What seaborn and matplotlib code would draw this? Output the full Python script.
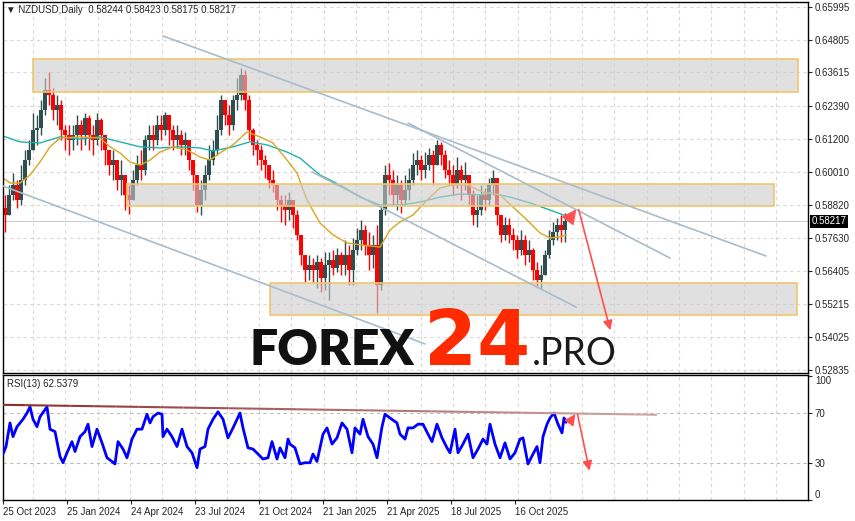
import numpy as np
import pandas as pd
import seaborn as sns
import matplotlib.pyplot as plt
from matplotlib.patches import Rectangle
from matplotlib.collections import LineCollection
import matplotlib.transforms as mtransforms

sns.set_style('white')
plt.rcParams['font.family'] = ['Liberation Sans', 'DejaVu Sans']

# ---- data: NZDUSD daily, grouped by 4 sessions (oldest first) ----
first_open = 0.5870
closes = [0.5845, 0.5918, 0.5954, 0.5899, 0.5972, 0.6044, 0.6081, 0.6153, 0.6160, 0.6225,
          0.6298, 0.6280, 0.6225, 0.6244, 0.6153, 0.6135, 0.6117, 0.6135, 0.6171, 0.6135,
          0.6196, 0.6135, 0.6117, 0.6189, 0.6135, 0.6081, 0.6026, 0.6044, 0.5972, 0.5990,
          0.5918, 0.5899, 0.5972, 0.6026, 0.6008, 0.6117, 0.6135, 0.6117, 0.6171, 0.6153,
          0.6207, 0.6153, 0.6117, 0.6135, 0.6099, 0.6117, 0.6044, 0.5990, 0.5881, 0.5936,
          0.5990, 0.6044, 0.6081, 0.6153, 0.6262, 0.6207, 0.6171, 0.6262, 0.6280, 0.6352,
          0.6262, 0.6153, 0.6099, 0.6081, 0.6044, 0.6026, 0.5972, 0.5954, 0.5899, 0.5881,
          0.5863, 0.5899, 0.5845, 0.5773, 0.5700, 0.5646, 0.5664, 0.5646, 0.5675, 0.5617,
          0.5664, 0.5682, 0.5653, 0.5700, 0.5664, 0.5700, 0.5646, 0.5718, 0.5755, 0.5791,
          0.5736, 0.5700, 0.5736, 0.5592, 0.5863, 0.5990, 0.5972, 0.5918, 0.5954, 0.5899,
          0.5936, 0.5972, 0.6026, 0.6044, 0.6008, 0.6026, 0.6062, 0.6026, 0.6099, 0.6062,
          0.6008, 0.5990, 0.5954, 0.6008, 0.5972, 0.5990, 0.5918, 0.5845, 0.5863, 0.5918,
          0.5899, 0.5954, 0.5979, 0.5845, 0.5773, 0.5809, 0.5773, 0.5755, 0.5718, 0.5755,
          0.5700, 0.5718, 0.5646, 0.5610, 0.5628, 0.5700, 0.5755, 0.5784, 0.5809, 0.5791,
          0.58217]
highs = [0.5918, 0.5954, 0.5997, 0.5972, 0.6026, 0.6081, 0.6117, 0.6215, 0.6207, 0.6262,
         0.6341, 0.6363, 0.6305, 0.6280, 0.6262, 0.6171, 0.6171, 0.6171, 0.6207, 0.6189,
         0.6215, 0.6207, 0.6171, 0.6215, 0.6196, 0.6135, 0.6081, 0.6081, 0.6044, 0.6044,
         0.5990, 0.5954, 0.6008, 0.6062, 0.6081, 0.6135, 0.6171, 0.6171, 0.6207, 0.6207,
         0.6218, 0.6207, 0.6171, 0.6171, 0.6153, 0.6146, 0.6117, 0.6044, 0.5990, 0.5972,
         0.6026, 0.6099, 0.6117, 0.6207, 0.6280, 0.6262, 0.6244, 0.6280, 0.6341, 0.6378,
         0.6370, 0.6280, 0.6160, 0.6117, 0.6099, 0.6062, 0.6026, 0.6008, 0.5954, 0.5918,
         0.5918, 0.5928, 0.5899, 0.5863, 0.5773, 0.5700, 0.5700, 0.5689, 0.5700, 0.5689,
         0.5711, 0.5711, 0.5718, 0.5726, 0.5711, 0.5755, 0.5736, 0.5762, 0.5798, 0.5827,
         0.5809, 0.5784, 0.5773, 0.5809, 0.5881, 0.6026, 0.6033, 0.6008, 0.5990, 0.5972,
         0.5990, 0.6015, 0.6070, 0.6081, 0.6062, 0.6073, 0.6088, 0.6081, 0.6117, 0.6110,
         0.6081, 0.6044, 0.6026, 0.6055, 0.6026, 0.6037, 0.5990, 0.5936, 0.5918, 0.5954,
         0.5943, 0.5979, 0.6008, 0.5979, 0.5845, 0.5838, 0.5834, 0.5798, 0.5773, 0.5791,
         0.5773, 0.5755, 0.5726, 0.5675, 0.5664, 0.5718, 0.5791, 0.5820, 0.5834, 0.5845,
         0.5852]
lows = [0.5784, 0.5845, 0.5899, 0.5870, 0.5881, 0.5954, 0.6026, 0.6081, 0.6099, 0.6135,
        0.6207, 0.6244, 0.6189, 0.6171, 0.6117, 0.6081, 0.6062, 0.6081, 0.6099, 0.6081,
        0.6099, 0.6081, 0.6062, 0.6099, 0.6081, 0.6026, 0.5990, 0.5972, 0.5936, 0.5918,
        0.5863, 0.5849, 0.5899, 0.5954, 0.5972, 0.5990, 0.6081, 0.6081, 0.6099, 0.6117,
        0.6135, 0.6099, 0.6081, 0.6088, 0.6062, 0.6062, 0.6008, 0.5936, 0.5856, 0.5845,
        0.5899, 0.5972, 0.6026, 0.6062, 0.6135, 0.6171, 0.6135, 0.6153, 0.6225, 0.6262,
        0.6225, 0.6117, 0.6062, 0.6026, 0.6008, 0.5979, 0.5943, 0.5928, 0.5863, 0.5820,
        0.5809, 0.5827, 0.5798, 0.5755, 0.5664, 0.5602, 0.5610, 0.5599, 0.5581, 0.5566,
        0.5574, 0.5537, 0.5628, 0.5639, 0.5628, 0.5628, 0.5592, 0.5592, 0.5700, 0.5718,
        0.5700, 0.5646, 0.5653, 0.5490, 0.5574, 0.5845, 0.5918, 0.5881, 0.5863, 0.5852,
        0.5881, 0.5899, 0.5954, 0.5990, 0.5972, 0.5979, 0.6008, 0.5954, 0.6026, 0.6026,
        0.5979, 0.5954, 0.5918, 0.5943, 0.5899, 0.5936, 0.5881, 0.5809, 0.5802, 0.5845,
        0.5863, 0.5881, 0.5918, 0.5809, 0.5747, 0.5755, 0.5744, 0.5718, 0.5689, 0.5700,
        0.5664, 0.5675, 0.5610, 0.5584, 0.5577, 0.5628, 0.5689, 0.5736, 0.5755, 0.5747,
        0.5747]

# moving averages (bar index, price)
ma_fast_bar = [0, 7, 17, 27, 37, 47, 57, 77, 97, 107, 117, 127, 137, 147, 157, 170, 184, 197,
               207, 217, 230, 244, 257, 270, 284, 294, 304, 317, 330, 344, 357, 377, 387, 397,
               410, 424, 437, 450, 464, 480, 497, 510, 524, 537, 547, 557, 563]
ma_fast = [0.5979, 0.5961, 0.5961, 0.5990, 0.6037, 0.6092, 0.6124, 0.6128, 0.6124, 0.6092,
           0.6070, 0.6037, 0.6026, 0.6044, 0.6073, 0.6092, 0.6081, 0.6055, 0.6044, 0.6070,
           0.6099, 0.6146, 0.6128, 0.6106, 0.6044, 0.5997, 0.5899, 0.5816, 0.5773, 0.5744,
           0.5737, 0.5729, 0.5791, 0.5820, 0.5845, 0.5899, 0.5943, 0.5954, 0.5954, 0.5928,
           0.5918, 0.5874, 0.5827, 0.5780, 0.5762, 0.5766, 0.5773]
ma_slow_bar = [0, 17, 37, 57, 77, 97, 117, 137, 157, 177, 197, 210, 230, 247, 264, 284, 297,
               317, 337, 357, 377, 397, 417, 437, 457, 477, 487, 507, 527, 547, 563]
ma_slow = [0.6131, 0.6110, 0.6106, 0.6128, 0.6120, 0.6128, 0.6110, 0.6092, 0.6088, 0.6092,
           0.6088, 0.6077, 0.6092, 0.6110, 0.6099, 0.6073, 0.6051, 0.5990, 0.5954, 0.5910,
           0.5881, 0.5881, 0.5892, 0.5910, 0.5921, 0.5918, 0.5925, 0.5910, 0.5889, 0.5863,
           0.5842]

# RSI(13)
rsi_bar = [0, 3, 7, 10, 14, 17, 20, 24, 27, 30, 34, 37, 44, 47, 52, 57, 60, 64, 69, 72,
           77, 82, 85, 89, 94, 99, 104, 109, 112, 115, 120, 124, 129, 134, 139, 144, 147, 150, 155, 159,
           160, 164, 169, 174, 179, 184, 189, 194, 197, 202, 205, 210, 215, 220, 225, 230, 237, 240, 245, 250,
           255, 260, 265, 269, 274, 277, 282, 285,
           287, 292, 297, 302, 307, 310, 314, 317, 320, 324, 329, 334, 339, 344, 349, 352, 357, 360, 365, 370,
           374, 379, 382, 387, 394, 397, 402, 405, 410, 415, 420, 425, 429, 434, 439, 444, 447, 452, 455, 460,
           465, 470, 475, 480, 484, 487, 492, 497, 502, 507, 512, 517, 520, 525, 530, 534, 537, 540, 544, 547,
           551, 555, 559, 561, 563]
rsi_val = [37, 43, 62, 51, 59, 62, 65, 70, 75, 65, 59, 67, 75, 57, 55, 35, 30, 38, 47, 39,
           51, 55, 61, 43, 57, 46, 34, 31, 29, 47, 41, 34, 49, 57, 57, 69, 62, 67, 70, 69,
           51, 57, 51, 43, 57, 43, 38, 26, 41, 43, 57, 65, 71, 65, 50, 58, 70, 58, 42, 41,
           37, 33, 34, 47, 33, 42, 34, 49,
           45, 42, 29, 30, 30, 37, 31, 42, 53, 58, 45, 50, 62, 57, 38, 58, 53, 65, 51, 45,
           34, 59, 69, 66, 62, 53, 49, 58, 58, 61, 61, 53, 47, 61, 50, 42, 38, 57, 38, 45,
           53, 34, 41, 49, 45, 61, 45, 34, 46, 33, 38, 49, 50, 29, 37, 43, 30, 51, 61, 66,
           70, 61, 54, 66, 62.54]

price_ticks = [0.65995, 0.64805, 0.63615, 0.62390, 0.61200, 0.60010, 0.58820,
               0.57630, 0.56405, 0.55215, 0.54025, 0.52835]
date_bars = [0, 64, 128, 192, 256, 320, 384, 448, 512]
date_labels = ['25 Oct 2023', '25 Jan 2024', '24 Apr 2024', '23 Jul 2024', '21 Oct 2024',
               '21 Jan 2025', '21 Apr 2025', '18 Jul 2025', '16 Oct 2025']
last_price = 0.58217

# zones: (bar start, bar end, low, high)
zones = [(30, 795, 0.62906, 0.64101),
         (124, 771, 0.58777, 0.59573),
         (267, 794, 0.54829, 0.55988)]
# trend lines: (bar0, price0, bar1, price1)
trend_lines = [(160, 0.64934, 763, 0.56966),
               (405, 0.61783, 667, 0.56893),
               (309, 0.60010, 573, 0.55118),
               (0, 0.59501, 422, 0.53780)]

W, H = 855, 521
fig = plt.figure(figsize=(W / 100, H / 100), dpi=100)
ax = fig.add_axes([3 / W, (H - 373) / H, 805 / W, 371 / H])
ax2 = fig.add_axes([3 / W, 21 / H, 805 / W, 125 / H])

grid_x = np.arange(30, 805, 32.3)
grid_kw = dict(color='#D9D9D9', linestyle=(0, (3, 3)), linewidth=0.8)

# ---- main price panel ----
df = pd.DataFrame({'close': closes, 'high': highs, 'low': lows})
df['open'] = [first_open] + closes[:-1]
df['x'] = np.arange(len(df)) * 4 + 2
up = df['close'] >= df['open']
colors = np.where(up, '#2F4F4F', '#FF0000')

ax.vlines(df['x'], df['low'], df['high'], colors=colors, linewidth=1, zorder=2)
ax.bar(df['x'], (df['close'] - df['open']).abs().clip(lower=0.00005),
       bottom=df[['open', 'close']].min(axis=1), width=3.2, color=colors,
       linewidth=0, zorder=2)

sns.lineplot(x=ma_slow_bar, y=ma_slow, ax=ax, color='#20B2AA', linewidth=1, zorder=2.5)
sns.lineplot(x=ma_fast_bar, y=ma_fast, ax=ax, color='#DAA520', linewidth=1, zorder=2.5)

ax.axhline(last_price, color='#CFCFCF', linewidth=0.8, zorder=1.5)

for x0, x1, lo, hi in zones:
    ax.add_patch(Rectangle((x0, lo), x1 - x0, hi - lo, facecolor='#CCCCCC', alpha=0.6,
                           edgecolor='none', zorder=3))
    ax.add_patch(Rectangle((x0, lo), x1 - x0, hi - lo, facecolor='none',
                           edgecolor='#F2C66A', linewidth=1.2, zorder=3.1))

for x0, y0, x1, y1 in trend_lines:
    ax.plot([x0, x1], [y0, y1], color='#A9BCCB', linewidth=1.2, zorder=4)

arrow_c = '#FF5050'
ax.annotate('', xy=(608, 0.5418), xytext=(575, 0.5874),
            arrowprops=dict(arrowstyle='-|>', color=arrow_c, lw=1.2, mutation_scale=14), zorder=5)
ax.annotate('', xy=(575, 0.5874), xytext=(564, 0.5820),
            arrowprops=dict(arrowstyle='-|>', color=arrow_c, lw=1.2, mutation_scale=22), zorder=5)

ax.set_xlim(0, 805)
ax.set_ylim(0.52728, 0.66166)
ax.set_xticks(grid_x)
ax.set_xticklabels([])
ax.yaxis.tick_right()
ax.set_yticks(price_ticks)
ax.set_yticklabels([f'{p:.5f}' for p in price_ticks])
ax.tick_params(axis='y', which='major', direction='out', length=3, pad=2,
               labelsize=7, right=True, left=False)
ax.tick_params(axis='x', length=0)
ax.grid(True, axis='both', **grid_kw)
ax.set_axisbelow(True)
ax.set_xlabel('')
ax.set_ylabel('')
for s in ax.spines.values():
    s.set_color('black')
    s.set_linewidth(1)

trans = mtransforms.blended_transform_factory(ax.transAxes, ax.transData)
ax.text(1.004, last_price, f'{last_price:.5f}', transform=trans, ha='left', va='center',
        fontsize=7, color='white',
        bbox=dict(facecolor='black', edgecolor='none', pad=1.2), zorder=6, clip_on=False)

# ---- RSI panel ----
sns.lineplot(x=rsi_bar, y=rsi_val, ax=ax2, color='#0000FF', linewidth=2, zorder=3)

# resistance line on RSI, fading to the right
rsi_tl_x = np.linspace(0, 654, 30)
rsi_tl_y = np.linspace(76.6, 68.6, 30)
segs = [[(rsi_tl_x[k], rsi_tl_y[k]), (rsi_tl_x[k + 1], rsi_tl_y[k + 1])] for k in range(29)]
c0 = np.array([0.55, 0.18, 0.18])
c1 = np.array([0.80, 0.65, 0.65])
seg_colors = [tuple(c0 + (c1 - c0) * k / 28) for k in range(29)]
ax2.add_collection(LineCollection(segs, colors=seg_colors, linewidths=1.5, zorder=4))

ax2.annotate('', xy=(587, 21.4), xytext=(574, 71),
             arrowprops=dict(arrowstyle='-|>', color=arrow_c, lw=1.2, mutation_scale=14), zorder=5)
ax2.annotate('', xy=(574, 71), xytext=(565, 60.6),
             arrowprops=dict(arrowstyle='-|>', color=arrow_c, lw=1.2, mutation_scale=16), zorder=5)

ax2.set_xlim(0, 805)
ax2.set_ylim(0, 100.6)
ax2.yaxis.tick_right()
ax2.set_yticks([0, 30, 70, 100])
ax2.set_yticklabels(['0', '30', '70', '100'])
ylabs = ax2.get_yticklabels()
ylabs[0].set_verticalalignment('bottom')
ylabs[3].set_verticalalignment('top')
ax2.tick_params(axis='y', direction='out', length=3, pad=2, labelsize=7, right=True, left=False)
ax2.set_xticks(date_bars)
ax2.set_xticklabels(date_labels)
for lbl in ax2.get_xticklabels():
    lbl.set_horizontalalignment('left')
ax2.tick_params(axis='x', which='major', direction='out', length=3, pad=2, labelsize=7,
                bottom=True)
ax2.set_xticks(grid_x, minor=True)
ax2.tick_params(axis='x', which='minor', length=0)
ax2.grid(True, axis='x', which='minor', **grid_kw)
for lvl in [30, 70]:
    ax2.axhline(lvl, color='#BBBBBB', linestyle=(0, (3, 3)), linewidth=0.8, zorder=1)
ax2.set_xlabel('')
ax2.set_ylabel('')
for s in ax2.spines.values():
    s.set_color('black')
    s.set_linewidth(1)

# ---- texts ----
fig.text(6 / W, 1 - 10 / H, '▼ NZDUSD,Daily  0.58244 0.58423 0.58175 0.58217',
         fontsize=7, va='center', ha='left', family=['Liberation Sans', 'DejaVu Sans'])
fig.text(7 / W, 1 - 384 / H, 'RSI(13) 62.5379', fontsize=7, va='center', ha='left')

base_y = (H - 365) / H
fig.text(249 / W, base_y, 'FOREX', fontsize=36, fontweight='heavy', color='#111111',
         va='baseline', ha='left', family=['Lato', 'DejaVu Sans'])
fig.text(424 / W, base_y, '24', fontsize=55, fontweight='bold', color='#FF2A00',
         va='baseline', ha='left', family=['DejaVu Sans'])
fig.text(532 / W, base_y, '.PRO', fontsize=27, fontweight='normal', color='#1A1A1A',
         va='baseline', ha='left', family=['Lato', 'DejaVu Sans'])

fig.savefig('out.png', dpi=100)
